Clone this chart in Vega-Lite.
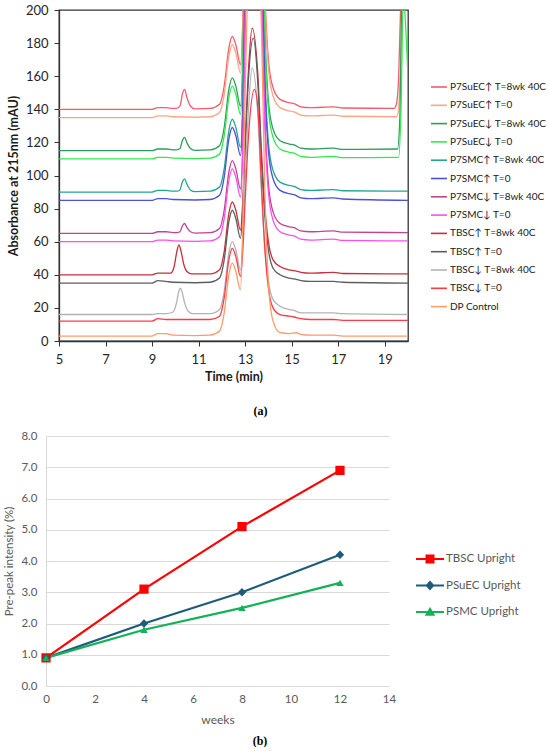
{
"$schema": "https://vega.github.io/schema/vega-lite/v6.json",
"padding": {"left": 3, "top": 3, "right": 0, "bottom": 0},
"background": "white",
"config": {"font": "Lato", "view": {"stroke": null}},
"spacing": 12,
"datasets": {
"names": [
{"k":"a","name":"P7SuEC↑ T=8wk 40C"},{"k":"b","name":"P7SuEC↑ T=0"},{"k":"c","name":"P7SuEC↓ T=8wk 40C"},{"k":"d","name":"P7SuEC↓ T=0"},
{"k":"e","name":"P7SMC↑ T=8wk 40C"},{"k":"f","name":"P7SMC↑ T=0"},{"k":"g","name":"P7SMC↓ T=8wk 40C"},{"k":"h","name":"P7SMC↓ T=0"},
{"k":"i","name":"TBSC↑ T=8wk 40C"},{"k":"j","name":"TBSC↑ T=0"},{"k":"k","name":"TBSC↓ T=8wk 40C"},{"k":"l","name":"TBSC↓ T=0"},{"k":"m","name":"DP Control"}
],
"chrom": [
{"k":"a","t":5,"v":140},{"k":"a","t":9,"v":140},{"k":"a","t":9.25,"v":141},{"k":"a","t":9.6,"v":141},{"k":"a","t":9.9,"v":140.5},{"k":"a","t":10.05,"v":140.5},{"k":"a","t":10.2,"v":142},{"k":"a","t":10.3,"v":149},{"k":"a","t":10.4,"v":152},{"k":"a","t":10.5,"v":147},{"k":"a","t":10.65,"v":142},{"k":"a","t":10.85,"v":140.2},{"k":"a","t":11.5,"v":140.5},{"k":"a","t":11.9,"v":143},{"k":"a","t":12.1,"v":154},{"k":"a","t":12.3,"v":177},{"k":"a","t":12.45,"v":184},{"k":"a","t":12.6,"v":179},{"k":"a","t":12.8,"v":167},{"k":"a","t":12.9,"v":195},{"k":"a","t":13.0,"v":270},{"k":"a","t":13.15,"v":360},{"k":"a","t":13.35,"v":400},{"k":"a","t":13.55,"v":360},{"k":"a","t":13.7,"v":290},{"k":"a","t":13.85,"v":210},{"k":"a","t":14.0,"v":170},{"k":"a","t":14.2,"v":153},{"k":"a","t":14.5,"v":146},{"k":"a","t":14.9,"v":144},{"k":"a","t":15.1,"v":143.5},{"k":"a","t":15.4,"v":141.5},{"k":"a","t":15.8,"v":141},{"k":"a","t":16.8,"v":141.5},{"k":"a","t":17.2,"v":140.8},{"k":"a","t":19.4,"v":140.5},{"k":"a","t":19.5,"v":143},{"k":"a","t":19.6,"v":160},{"k":"a","t":19.7,"v":210},{"k":"a","t":20,"v":260},
{"k":"b","t":5,"v":135},{"k":"b","t":9,"v":135},{"k":"b","t":9.25,"v":136},{"k":"b","t":9.6,"v":136},{"k":"b","t":9.9,"v":135.5},{"k":"b","t":10.85,"v":135.2},{"k":"b","t":11.5,"v":135.5},{"k":"b","t":11.9,"v":138},{"k":"b","t":12.1,"v":149},{"k":"b","t":12.3,"v":172},{"k":"b","t":12.45,"v":179},{"k":"b","t":12.6,"v":174},{"k":"b","t":12.8,"v":162},{"k":"b","t":12.9,"v":190},{"k":"b","t":13.0,"v":265},{"k":"b","t":13.15,"v":355},{"k":"b","t":13.35,"v":395},{"k":"b","t":13.55,"v":355},{"k":"b","t":13.7,"v":285},{"k":"b","t":13.85,"v":205},{"k":"b","t":14.0,"v":165},{"k":"b","t":14.2,"v":148},{"k":"b","t":14.5,"v":141},{"k":"b","t":14.9,"v":139},{"k":"b","t":15.1,"v":138.5},{"k":"b","t":15.4,"v":136.5},{"k":"b","t":15.8,"v":136},{"k":"b","t":16.8,"v":136.5},{"k":"b","t":17.2,"v":135.8},{"k":"b","t":19.5,"v":135.5},{"k":"b","t":19.6,"v":140},{"k":"b","t":19.7,"v":180},{"k":"b","t":19.8,"v":230},{"k":"b","t":20,"v":260},
{"k":"c","t":5,"v":115},{"k":"c","t":9,"v":115},{"k":"c","t":9.25,"v":116},{"k":"c","t":9.6,"v":116},{"k":"c","t":9.9,"v":115.5},{"k":"c","t":10.05,"v":115.5},{"k":"c","t":10.2,"v":116.3},{"k":"c","t":10.3,"v":121},{"k":"c","t":10.4,"v":123},{"k":"c","t":10.5,"v":119.7},{"k":"c","t":10.65,"v":116.3},{"k":"c","t":10.85,"v":115.2},{"k":"c","t":11.5,"v":115.5},{"k":"c","t":11.9,"v":118},{"k":"c","t":12.1,"v":129},{"k":"c","t":12.3,"v":152},{"k":"c","t":12.45,"v":159},{"k":"c","t":12.6,"v":154},{"k":"c","t":12.8,"v":142},{"k":"c","t":12.9,"v":170},{"k":"c","t":13.0,"v":245},{"k":"c","t":13.15,"v":335},{"k":"c","t":13.35,"v":375},{"k":"c","t":13.55,"v":335},{"k":"c","t":13.7,"v":265},{"k":"c","t":13.85,"v":185},{"k":"c","t":14.0,"v":145},{"k":"c","t":14.2,"v":128},{"k":"c","t":14.5,"v":121},{"k":"c","t":14.9,"v":119},{"k":"c","t":15.1,"v":118.5},{"k":"c","t":15.4,"v":116.5},{"k":"c","t":15.8,"v":116},{"k":"c","t":16.8,"v":116.5},{"k":"c","t":17.2,"v":115.8},{"k":"c","t":19.55,"v":116},{"k":"c","t":19.65,"v":135},{"k":"c","t":19.75,"v":220},{"k":"c","t":20,"v":260},
{"k":"d","t":5,"v":110},{"k":"d","t":9,"v":110},{"k":"d","t":9.25,"v":111},{"k":"d","t":9.6,"v":111},{"k":"d","t":9.9,"v":110.5},{"k":"d","t":10.85,"v":110.2},{"k":"d","t":11.5,"v":110.5},{"k":"d","t":11.9,"v":113},{"k":"d","t":12.1,"v":124},{"k":"d","t":12.3,"v":147},{"k":"d","t":12.45,"v":154},{"k":"d","t":12.6,"v":149},{"k":"d","t":12.8,"v":137},{"k":"d","t":12.9,"v":165},{"k":"d","t":13.0,"v":240},{"k":"d","t":13.15,"v":330},{"k":"d","t":13.35,"v":370},{"k":"d","t":13.55,"v":330},{"k":"d","t":13.7,"v":260},{"k":"d","t":13.85,"v":180},{"k":"d","t":14.0,"v":140},{"k":"d","t":14.2,"v":123},{"k":"d","t":14.5,"v":116},{"k":"d","t":14.9,"v":114},{"k":"d","t":15.1,"v":113.5},{"k":"d","t":15.4,"v":111.5},{"k":"d","t":15.8,"v":111},{"k":"d","t":16.8,"v":111.5},{"k":"d","t":17.2,"v":110.8},{"k":"d","t":19.6,"v":111},{"k":"d","t":19.7,"v":140},{"k":"d","t":19.8,"v":210},{"k":"d","t":19.9,"v":190},{"k":"d","t":20,"v":160},
{"k":"e","t":5,"v":90},{"k":"e","t":9,"v":90},{"k":"e","t":9.25,"v":91},{"k":"e","t":9.6,"v":91},{"k":"e","t":9.9,"v":90.5},{"k":"e","t":10.05,"v":90.5},{"k":"e","t":10.2,"v":91.3},{"k":"e","t":10.3,"v":96},{"k":"e","t":10.4,"v":98},{"k":"e","t":10.5,"v":94.7},{"k":"e","t":10.65,"v":91.3},{"k":"e","t":10.85,"v":90.2},{"k":"e","t":11.5,"v":90.5},{"k":"e","t":11.9,"v":93},{"k":"e","t":12.1,"v":104},{"k":"e","t":12.3,"v":127},{"k":"e","t":12.45,"v":134},{"k":"e","t":12.6,"v":129},{"k":"e","t":12.8,"v":117},{"k":"e","t":12.9,"v":145},{"k":"e","t":13.0,"v":220},{"k":"e","t":13.15,"v":310},{"k":"e","t":13.35,"v":350},{"k":"e","t":13.55,"v":310},{"k":"e","t":13.7,"v":240},{"k":"e","t":13.85,"v":160},{"k":"e","t":14.0,"v":120},{"k":"e","t":14.2,"v":103},{"k":"e","t":14.5,"v":96},{"k":"e","t":14.9,"v":94},{"k":"e","t":15.1,"v":93.5},{"k":"e","t":15.4,"v":91.5},{"k":"e","t":15.8,"v":91},{"k":"e","t":16.8,"v":91.5},{"k":"e","t":17.2,"v":90.8},{"k":"e","t":20,"v":90.5},
{"k":"f","t":5,"v":85},{"k":"f","t":9,"v":85},{"k":"f","t":9.25,"v":86},{"k":"f","t":9.6,"v":86},{"k":"f","t":9.9,"v":85.5},{"k":"f","t":10.85,"v":85.2},{"k":"f","t":11.5,"v":85.5},{"k":"f","t":11.9,"v":88},{"k":"f","t":12.1,"v":99},{"k":"f","t":12.3,"v":122},{"k":"f","t":12.45,"v":129},{"k":"f","t":12.6,"v":124},{"k":"f","t":12.8,"v":112},{"k":"f","t":12.9,"v":140},{"k":"f","t":13.0,"v":215},{"k":"f","t":13.15,"v":305},{"k":"f","t":13.35,"v":345},{"k":"f","t":13.55,"v":305},{"k":"f","t":13.7,"v":235},{"k":"f","t":13.85,"v":155},{"k":"f","t":14.0,"v":115},{"k":"f","t":14.2,"v":98},{"k":"f","t":14.5,"v":91},{"k":"f","t":14.9,"v":89},{"k":"f","t":15.1,"v":88.5},{"k":"f","t":15.4,"v":86.5},{"k":"f","t":15.8,"v":86},{"k":"f","t":16.8,"v":86.5},{"k":"f","t":17.2,"v":85.8},{"k":"f","t":20,"v":85},
{"k":"g","t":5,"v":65},{"k":"g","t":9,"v":65},{"k":"g","t":9.25,"v":66},{"k":"g","t":9.6,"v":66},{"k":"g","t":9.9,"v":65.5},{"k":"g","t":10.05,"v":65.5},{"k":"g","t":10.2,"v":66},{"k":"g","t":10.3,"v":69.5},{"k":"g","t":10.4,"v":71},{"k":"g","t":10.5,"v":68.5},{"k":"g","t":10.65,"v":66},{"k":"g","t":10.85,"v":65.2},{"k":"g","t":11.5,"v":65.5},{"k":"g","t":11.9,"v":68},{"k":"g","t":12.1,"v":79},{"k":"g","t":12.3,"v":102},{"k":"g","t":12.45,"v":109},{"k":"g","t":12.6,"v":104},{"k":"g","t":12.8,"v":92},{"k":"g","t":12.9,"v":120},{"k":"g","t":13.0,"v":195},{"k":"g","t":13.15,"v":285},{"k":"g","t":13.35,"v":325},{"k":"g","t":13.55,"v":285},{"k":"g","t":13.7,"v":215},{"k":"g","t":13.85,"v":135},{"k":"g","t":14.0,"v":95},{"k":"g","t":14.2,"v":78},{"k":"g","t":14.5,"v":71},{"k":"g","t":14.9,"v":69},{"k":"g","t":15.1,"v":68.5},{"k":"g","t":15.4,"v":66.5},{"k":"g","t":15.8,"v":66},{"k":"g","t":16.8,"v":66.5},{"k":"g","t":17.2,"v":65.8},{"k":"g","t":20,"v":65.5},
{"k":"h","t":5,"v":60},{"k":"h","t":9,"v":60},{"k":"h","t":9.25,"v":61},{"k":"h","t":9.6,"v":61},{"k":"h","t":9.9,"v":60.5},{"k":"h","t":10.85,"v":60.2},{"k":"h","t":11.5,"v":60.5},{"k":"h","t":11.9,"v":63},{"k":"h","t":12.1,"v":74},{"k":"h","t":12.3,"v":97},{"k":"h","t":12.45,"v":104},{"k":"h","t":12.6,"v":99},{"k":"h","t":12.8,"v":87},{"k":"h","t":12.9,"v":115},{"k":"h","t":13.0,"v":190},{"k":"h","t":13.15,"v":280},{"k":"h","t":13.35,"v":320},{"k":"h","t":13.55,"v":280},{"k":"h","t":13.7,"v":210},{"k":"h","t":13.85,"v":130},{"k":"h","t":14.0,"v":90},{"k":"h","t":14.2,"v":73},{"k":"h","t":14.5,"v":66},{"k":"h","t":14.9,"v":64},{"k":"h","t":15.1,"v":63.5},{"k":"h","t":15.4,"v":61.5},{"k":"h","t":15.8,"v":61},{"k":"h","t":16.8,"v":61.5},{"k":"h","t":17.2,"v":60.8},{"k":"h","t":20,"v":60.5},
{"k":"i","t":5,"v":40},{"k":"i","t":9,"v":40},{"k":"i","t":9.25,"v":41},{"k":"i","t":9.6,"v":41},{"k":"i","t":9.8,"v":41},{"k":"i","t":9.95,"v":45},{"k":"i","t":10.05,"v":53},{"k":"i","t":10.15,"v":58},{"k":"i","t":10.25,"v":54},{"k":"i","t":10.35,"v":47},{"k":"i","t":10.5,"v":42},{"k":"i","t":10.7,"v":40.5},{"k":"i","t":11.5,"v":40.5},{"k":"i","t":11.9,"v":43},{"k":"i","t":12.1,"v":54},{"k":"i","t":12.3,"v":77},{"k":"i","t":12.45,"v":84},{"k":"i","t":12.6,"v":79},{"k":"i","t":12.8,"v":67},{"k":"i","t":12.9,"v":85},{"k":"i","t":13.0,"v":120},{"k":"i","t":13.15,"v":165},{"k":"i","t":13.3,"v":189},{"k":"i","t":13.55,"v":160},{"k":"i","t":13.7,"v":115},{"k":"i","t":13.85,"v":80},{"k":"i","t":14.0,"v":60},{"k":"i","t":14.2,"v":49},{"k":"i","t":14.5,"v":45},{"k":"i","t":14.9,"v":43},{"k":"i","t":15.1,"v":42.5},{"k":"i","t":15.4,"v":41.5},{"k":"i","t":15.8,"v":41},{"k":"i","t":16.8,"v":41.5},{"k":"i","t":17.2,"v":40.8},{"k":"i","t":20,"v":40.5},
{"k":"j","t":5,"v":35},{"k":"j","t":9,"v":35},{"k":"j","t":9.25,"v":36.5},{"k":"j","t":9.6,"v":36},{"k":"j","t":9.9,"v":35.5},{"k":"j","t":10.85,"v":35.2},{"k":"j","t":11.5,"v":35.5},{"k":"j","t":11.9,"v":38},{"k":"j","t":12.1,"v":49},{"k":"j","t":12.3,"v":72},{"k":"j","t":12.45,"v":79},{"k":"j","t":12.6,"v":74},{"k":"j","t":12.8,"v":62},{"k":"j","t":12.9,"v":80},{"k":"j","t":13.0,"v":115},{"k":"j","t":13.15,"v":160},{"k":"j","t":13.35,"v":183},{"k":"j","t":13.55,"v":155},{"k":"j","t":13.7,"v":110},{"k":"j","t":13.85,"v":75},{"k":"j","t":14.0,"v":55},{"k":"j","t":14.2,"v":44},{"k":"j","t":14.5,"v":40},{"k":"j","t":14.9,"v":38},{"k":"j","t":15.1,"v":37.5},{"k":"j","t":15.4,"v":36.5},{"k":"j","t":15.8,"v":36},{"k":"j","t":16.8,"v":36},{"k":"j","t":17.2,"v":35.5},{"k":"j","t":20,"v":35},
{"k":"k","t":5,"v":16},{"k":"k","t":9,"v":16},{"k":"k","t":9.25,"v":16.5},{"k":"k","t":9.6,"v":16.5},{"k":"k","t":9.9,"v":17.5},{"k":"k","t":10.05,"v":23},{"k":"k","t":10.15,"v":30},{"k":"k","t":10.22,"v":32},{"k":"k","t":10.3,"v":29},{"k":"k","t":10.4,"v":23},{"k":"k","t":10.55,"v":18},{"k":"k","t":10.75,"v":16.5},{"k":"k","t":11.5,"v":16.5},{"k":"k","t":11.9,"v":19},{"k":"k","t":12.1,"v":30},{"k":"k","t":12.3,"v":53},{"k":"k","t":12.45,"v":60},{"k":"k","t":12.6,"v":55},{"k":"k","t":12.8,"v":43},{"k":"k","t":12.9,"v":61},{"k":"k","t":13.0,"v":96},{"k":"k","t":13.15,"v":141},{"k":"k","t":13.3,"v":165},{"k":"k","t":13.55,"v":136},{"k":"k","t":13.7,"v":91},{"k":"k","t":13.85,"v":56},{"k":"k","t":14.0,"v":36},{"k":"k","t":14.2,"v":25},{"k":"k","t":14.5,"v":21},{"k":"k","t":14.9,"v":19},{"k":"k","t":15.1,"v":18.5},{"k":"k","t":15.4,"v":17},{"k":"k","t":15.8,"v":17},{"k":"k","t":16.8,"v":17},{"k":"k","t":17.2,"v":16.5},{"k":"k","t":20,"v":16},
{"k":"l","t":5,"v":12},{"k":"l","t":9,"v":12},{"k":"l","t":9.25,"v":13.5},{"k":"l","t":9.6,"v":13},{"k":"l","t":9.9,"v":13},{"k":"l","t":10.85,"v":13},{"k":"l","t":11.5,"v":13},{"k":"l","t":11.9,"v":15},{"k":"l","t":12.1,"v":26},{"k":"l","t":12.3,"v":49},{"k":"l","t":12.45,"v":56},{"k":"l","t":12.6,"v":51},{"k":"l","t":12.8,"v":39},{"k":"l","t":12.9,"v":55},{"k":"l","t":13.0,"v":85},{"k":"l","t":13.15,"v":125},{"k":"l","t":13.4,"v":152},{"k":"l","t":13.55,"v":140},{"k":"l","t":13.7,"v":95},{"k":"l","t":13.85,"v":55},{"k":"l","t":14.0,"v":32},{"k":"l","t":14.2,"v":20},{"k":"l","t":14.5,"v":16},{"k":"l","t":14.9,"v":15},{"k":"l","t":15.1,"v":14.5},{"k":"l","t":15.4,"v":13.5},{"k":"l","t":15.8,"v":13},{"k":"l","t":16.8,"v":13},{"k":"l","t":17.2,"v":12.5},{"k":"l","t":20,"v":12.5},
{"k":"m","t":5,"v":3},{"k":"m","t":9,"v":3},{"k":"m","t":9.25,"v":4.5},{"k":"m","t":9.6,"v":4.5},{"k":"m","t":9.9,"v":3.5},{"k":"m","t":10.85,"v":3.2},{"k":"m","t":11.5,"v":3.5},{"k":"m","t":11.9,"v":6},{"k":"m","t":12.1,"v":17},{"k":"m","t":12.3,"v":40},{"k":"m","t":12.45,"v":47},{"k":"m","t":12.6,"v":42},{"k":"m","t":12.8,"v":31},{"k":"m","t":12.9,"v":70},{"k":"m","t":13.0,"v":150},{"k":"m","t":13.15,"v":240},{"k":"m","t":13.35,"v":280},{"k":"m","t":13.55,"v":240},{"k":"m","t":13.7,"v":190},{"k":"m","t":13.85,"v":90},{"k":"m","t":14.0,"v":35},{"k":"m","t":14.2,"v":12},{"k":"m","t":14.5,"v":5},{"k":"m","t":14.9,"v":4.5},{"k":"m","t":15.2,"v":5},{"k":"m","t":15.4,"v":4},{"k":"m","t":15.8,"v":3.5},{"k":"m","t":16.8,"v":3.5},{"k":"m","t":17.2,"v":3},{"k":"m","t":20,"v":3}
],
"prepeak": [
{"series":"TBSC Upright","week":0,"pct":0.9},{"series":"TBSC Upright","week":4,"pct":3.1},{"series":"TBSC Upright","week":8,"pct":5.1},{"series":"TBSC Upright","week":12,"pct":6.9},
{"series":"PSuEC Upright","week":0,"pct":0.9},{"series":"PSuEC Upright","week":4,"pct":2.0},{"series":"PSuEC Upright","week":8,"pct":3.0},{"series":"PSuEC Upright","week":12,"pct":4.2},
{"series":"PSMC Upright","week":0,"pct":0.9},{"series":"PSMC Upright","week":4,"pct":1.8},{"series":"PSMC Upright","week":8,"pct":2.5},{"series":"PSMC Upright","week":12,"pct":3.3}
]
},
"vconcat": [
{
"width": 349, "height": 331,
"view": {"stroke": "#333333", "strokeWidth": 1.3},
"title": {"text": "(a)", "orient": "bottom", "anchor": "middle", "font": "Liberation Serif", "fontSize": 12, "fontWeight": "bold", "color": "#000000", "offset": 23, "dx": 27},
"data": {"name": "chrom"},
"transform": [{"lookup": "k", "from": {"data": {"name": "names"}, "key": "k", "fields": ["name"]}}],
"mark": {"type": "line", "strokeWidth": 1.3, "clip": true, "interpolate": "monotone"},
"encoding": {
"x": {"field": "t", "type": "quantitative", "scale": {"domain": [5, 20], "nice": false},
 "axis": {"values": [5,7,9,11,13,15,17,19], "labelFlush": false, "title": "Time (min)", "grid": false, "domainColor": "#333333", "domainWidth": 1.3, "tickColor": "#333333", "tickSize": 5, "labelFont": "Lato", "labelFontSize": 13, "labelColor": "#262626", "labelPadding": 7, "titleFont": "Lato", "titleFontSize": 12.5, "titleFontWeight": "bold", "titleColor": "#1a1a1a", "titlePadding": 4}},
"y": {"field": "v", "type": "quantitative", "scale": {"domain": [0, 200], "nice": false},
 "axis": {"values": [0,20,40,60,80,100,120,140,160,180,200], "title": "Absorbance at 215nm (mAU)", "grid": false, "domainColor": "#333333", "domainWidth": 1.3, "tickColor": "#333333", "tickSize": 5, "labelFont": "Lato", "labelFontSize": 13, "labelColor": "#262626", "labelPadding": 6, "titleFont": "Lato", "titleFontSize": 12.5, "titleFontWeight": "bold", "titleColor": "#1a1a1a", "titlePadding": 5}},
"color": {"field": "name", "type": "nominal",
 "scale": {"domain": ["P7SuEC↑ T=8wk 40C","P7SuEC↑ T=0","P7SuEC↓ T=8wk 40C","P7SuEC↓ T=0","P7SMC↑ T=8wk 40C","P7SMC↑ T=0","P7SMC↓ T=8wk 40C","P7SMC↓ T=0","TBSC↑ T=8wk 40C","TBSC↑ T=0","TBSC↓ T=8wk 40C","TBSC↓ T=0","DP Control"],
  "range": ["#f85c6c","#ffa585","#2e9c5a","#33e84d","#23a596","#4a52d6","#c2438f","#ff4df0","#c4303c","#5e5e5e","#b3b3b3","#ff3b48","#ff9b6b"]},
 "legend": {"title": null, "orient": "none", "legendX": 371, "legendY": 68, "symbolType": "stroke", "symbolSize": 256, "symbolStrokeWidth": 1.6, "labelFont": "Lato", "labelFontSize": 10, "labelColor": "#1a1a1a", "rowPadding": 4.3, "labelOffset": 2, "labelLimit": 200}}
}
},
{
"width": 330, "height": 250,
"title": {"text": "(b)", "orient": "bottom", "anchor": "middle", "font": "Liberation Serif", "fontSize": 12, "fontWeight": "bold", "color": "#000000", "offset": 10, "dx": 36},
"data": {"name": "prepeak"},
"encoding": {
"x": {"field": "week", "type": "quantitative", "scale": {"domain": [0, 14], "range": [-13, 330], "nice": false},
 "axis": {"values": [0,2,4,6,8,10,12,14], "labelFlush": false, "title": "weeks", "grid": false, "domain": true, "domainColor": "#d9d9d9", "ticks": false, "labelFont": "Lato", "labelFontSize": 11.5, "labelColor": "#595959", "labelPadding": 7, "titleFont": "Lato", "titleFontSize": 12, "titleFontWeight": "normal", "titleColor": "#595959", "titlePadding": 10}},
"y": {"field": "pct", "type": "quantitative", "scale": {"domain": [0, 8], "nice": false},
 "axis": {"values": [0,1,2,3,4,5,6,7,8], "format": ".1f", "title": "Pre-peak intensity (%)", "grid": true, "gridColor": "#d9d9d9", "domain": true, "domainColor": "#d9d9d9", "ticks": false, "offset": 13, "labelFont": "Lato", "labelFontSize": 11.5, "labelColor": "#595959", "labelPadding": 9, "titleFont": "Lato", "titleFontSize": 11.5, "titleFontWeight": "normal", "titleColor": "#595959", "titlePadding": 6}},
"color": {"field": "series", "type": "nominal",
 "scale": {"domain": ["TBSC Upright","PSuEC Upright","PSMC Upright"], "range": ["#ff0000","#1f5c7a","#14b05a"]},
 "legend": {"title": null, "orient": "none", "legendX": 363, "legendY": 115, "symbolSize": 196, "labelOffset": 8, "rowPadding": 10.5, "labelFont": "Lato", "labelFontSize": 11.5, "labelColor": "#595959",
  "encode": {"symbols": {"update": {
   "shape": {"signal": "datum.value === 'TBSC Upright' ? 'M-2,0L2,0M-0.5,-0.5L0.5,-0.5L0.5,0.5L-0.5,0.5Z' : datum.value === 'PSuEC Upright' ? 'M-2,0L2,0M0,-0.5L0.45,0L0,0.5L-0.45,0Z' : 'M-2,0L2,0M0,-0.45L0.5,0.4L-0.5,0.4Z'"},
   "fill": {"signal": "datum.value === 'TBSC Upright' ? '#ff0000' : datum.value === 'PSuEC Upright' ? '#1f5c7a' : '#14b05a'"},
   "stroke": {"signal": "datum.value === 'TBSC Upright' ? '#ff0000' : datum.value === 'PSuEC Upright' ? '#1f5c7a' : '#14b05a'"},
   "strokeWidth": {"value": 2}, "opacity": {"value": 1}, "fillOpacity": {"value": 1}, "strokeOpacity": {"value": 1}}}}}}
},
"layer": [
{"mark": {"type": "line", "strokeWidth": 2.2}},
{"mark": {"type": "point", "filled": true, "opacity": 1},
 "encoding": {
  "shape": {"field": "series", "type": "nominal", "scale": {"domain": ["TBSC Upright","PSuEC Upright","PSMC Upright"], "range": ["square","diamond","triangle-up"]}, "legend": null},
  "size": {"field": "series", "type": "ordinal", "scale": {"domain": ["TBSC Upright","PSuEC Upright","PSMC Upright"], "range": [85, 55, 50]}, "legend": null}}}
]
}
],
"resolve": {"scale": {"color": "independent", "x": "independent", "y": "independent"}, "legend": {"color": "independent"}}
}
